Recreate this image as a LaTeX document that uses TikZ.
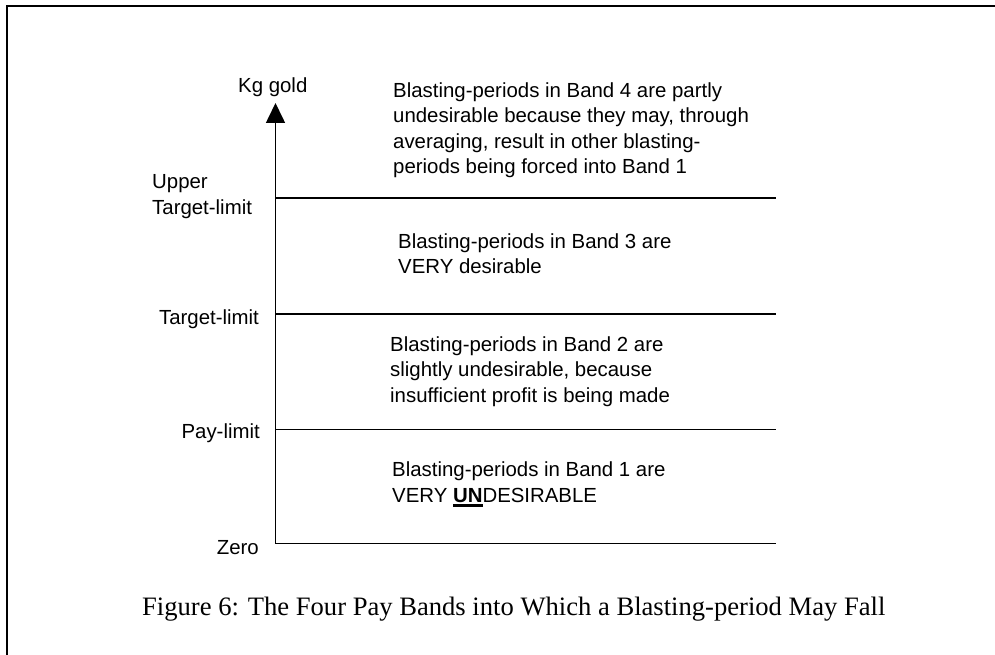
\documentclass[tikz,border=0pt]{standalone}
\usepackage{fontspec}
\setmainfont{Liberation Sans}
\newfontfamily\captionfont{Liberation Serif}
\usetikzlibrary{arrows.meta}

% bold text with a heavy underline
\newlength\strongulwd
\newcommand{\strongul}[1]{%
  \settowidth{\strongulwd}{\textbf{#1}}%
  \textbf{#1}\llap{\rule[-4.6pt]{\strongulwd}{2.8pt}}}

\tikzset{
  frameline/.style={line width=1.8pt, line cap=rect},
  levelline/.style={line width=1.6pt},
  axisline/.style={line width=1.6pt, -{Triangle[length=20pt,width=19pt]}},
  txt/.style={inner sep=0pt, font=\fontsize{20.4}{25.5}\selectfont, align=left},
  levellabel/.style={txt, anchor=base east},
  bandtext/.style={txt, anchor=north west},
  captiontext/.style={inner sep=0pt, anchor=base west,
    font=\captionfont\fontsize{26.6}{30}\selectfont}
}

\begin{document}
\begin{tikzpicture}[x=1pt, y=-1pt]
  \useasboundingbox (0,0) rectangle (995,655);

  % page frame (open at right and bottom)
  \draw[frameline] (7,655) -- (7,6) -- (995,6);

  % axis levels
  \coordinate (zero0)  at (275.5,543.5);
  \coordinate (zero1)  at (776,543.5);
  \coordinate (pay0)   at (275.5,429.5);
  \coordinate (pay1)   at (776,429.5);
  \coordinate (targ0)  at (275.5,314);
  \coordinate (targ1)  at (776,314);
  \coordinate (upper0) at (275.5,198);
  \coordinate (upper1) at (776,198);
  \coordinate (top)    at (275.5,103);

  \draw[levelline] (zero0) -- (zero1);
  \draw[levelline] (pay0) -- (pay1);
  \draw[levelline] (targ0) -- (targ1);
  \draw[levelline] (upper0) -- (upper1);
  \draw[axisline] (zero0) -- (top);

  % axis labels
  \node[txt, anchor=base west] (kg) at (238,93) {Kg gold};
  \node[txt, anchor=north west] (upperlbl) at (152,174.4) {Upper\\Target-limit};
  \node[levellabel] (targlbl) at (259,324) {Target-limit};
  \node[levellabel] (paylbl)  at (260,438.5) {Pay-limit};
  \node[levellabel] (zerolbl) at (259,554) {Zero};

  % band descriptions
  \node[bandtext] (band4) at (393,82.4)
    {Blasting-periods in Band 4 are partly\\
     undesirable because they may, through\\
     averaging, result in other blasting-\\
     periods being forced into Band 1};
  \node[bandtext] (band3) at (398,233.4)
    {Blasting-periods in Band 3 are\\VERY desirable};
  \node[bandtext] (band2) at (390,336.4)
    {Blasting-periods in Band 2 are\\
     slightly undesirable, because\\
     insufficient profit is being made};
  \node[bandtext] (band1) at (392,461.6)
    {Blasting-periods in Band 1 are\\VERY \strongul{UN}DESIRABLE};

  % caption
  \node[captiontext] (caption) at (142,615)
    {Figure 6: The Four Pay Bands into Which a Blasting-period May Fall};
\end{tikzpicture}
\end{document}
